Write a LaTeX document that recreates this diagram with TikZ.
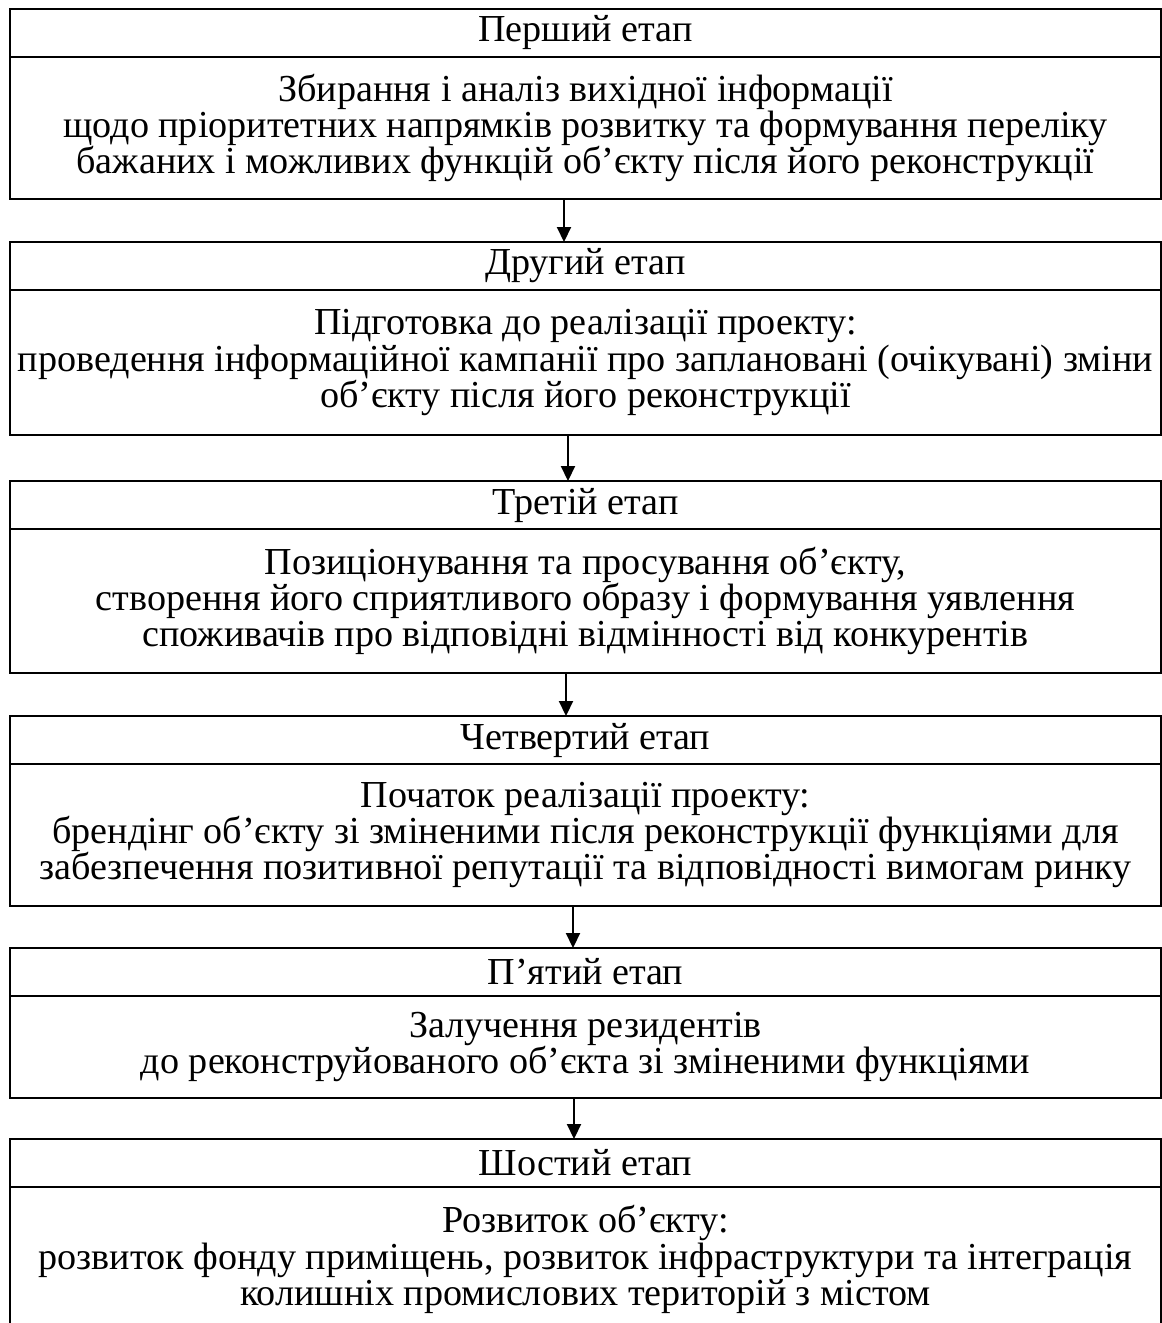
\documentclass[tikz,border=0pt]{standalone}
\usepackage{fontspec}
\setmainfont{Liberation Serif}
\usepackage{tikz}
\usetikzlibrary{arrows.meta,positioning}
\newcommand{\boxfont}{\fontsize{21.7}{20.6}\selectfont\lineskiplimit=-100pt}
\tikzset{
  headbox/.style={
    draw, line width=1.1pt, outer sep=0pt, inner sep=2pt,
    minimum width=23.02cm, minimum height=0.96cm,
    font=\boxfont, align=center,
  },
  bodybox/.style={
    draw, line width=1.1pt, outer sep=0pt, inner sep=2pt,
    minimum width=23.02cm, minimum height=#1,
    font=\boxfont, align=center,
  },
  arrow/.style={-{Triangle[length=0.3cm, width=0.28cm]}, line width=1.2pt},
}
\begin{document}
\begin{tikzpicture}
  \useasboundingbox (0,0) rectangle (23.24,-26.46);

  \node[headbox, anchor=north west] (head1) at (0.2,-0.18) {Перший етап};
  \node[bodybox=2.84cm, below=0pt of head1] (body1)
    {Збирання і аналіз вихідної інформації\\
     щодо пріоритетних напрямків розвитку та формування переліку\\
     бажаних і можливих функцій об’єкту після його реконструкції};

  \node[headbox, anchor=north west] (head2) at (0.2,-4.84) {Другий етап};
  \node[bodybox=2.90cm, below=0pt of head2] (body2)
    {Підготовка до реалізації проекту:\\
     проведення інформаційної кампанії про заплановані (очікувані) зміни\\
     об’єкту після його реконструкції};

  \node[headbox, anchor=north west] (head3) at (0.2,-9.62) {Третій етап};
  \node[bodybox=2.88cm, below=0pt of head3] (body3)
    {Позиціонування та просування об’єкту,\\
     створення його сприятливого образу і формування уявлення\\
     споживачів про відповідні відмінності від конкурентів};

  \node[headbox, anchor=north west] (head4) at (0.2,-14.32) {Четвертий етап};
  \node[bodybox=2.84cm, below=0pt of head4] (body4)
    {Початок реалізації проекту:\\
     брендінг об’єкту зі зміненими після реконструкції функціями для\\
     забезпечення позитивної репутації та відповідності вимогам ринку};

  \node[headbox, anchor=north west] (head5) at (0.2,-18.96) {П’ятий етап};
  \node[bodybox=2.04cm, below=0pt of head5] (body5)
    {Залучення резидентів\\
     до реконструйованого об’єкта зі зміненими функціями};

  \node[headbox, anchor=north west] (head6) at (0.2,-22.78) {Шостий етап};
  \node[bodybox=2.90cm, below=0pt of head6] (body6)
    {Розвиток об’єкту:\\
     розвиток фонду приміщень, розвиток інфраструктури та інтеграція\\
     колишніх промислових територій з містом};

  \draw[arrow] ([xshift=-0.43cm]body1.south) -- ([xshift=-0.43cm]head2.north);
  \draw[arrow] ([xshift=-0.35cm]body2.south) -- ([xshift=-0.35cm]head3.north);
  \draw[arrow] ([xshift=-0.39cm]body3.south) -- ([xshift=-0.39cm]head4.north);
  \draw[arrow] ([xshift=-0.25cm]body4.south) -- ([xshift=-0.25cm]head5.north);
  \draw[arrow] ([xshift=-0.23cm]body5.south) -- ([xshift=-0.23cm]head6.north);

\end{tikzpicture}
\end{document}
